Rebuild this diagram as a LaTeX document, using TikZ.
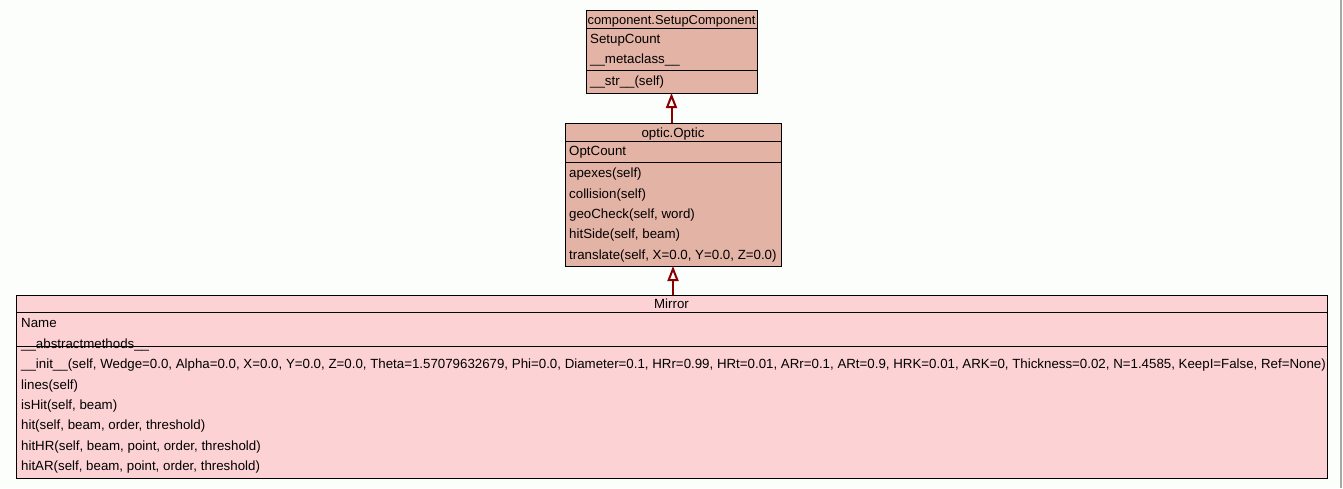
\documentclass[tikz,border=0pt]{standalone}
\usepackage{fontspec}
\setmainfont{Liberation Sans}
\usetikzlibrary{arrows.meta}
\definecolor{bgc}{HTML}{FCFEFC}
\definecolor{salmon}{HTML}{E3B3A5}
\definecolor{pinkc}{HTML}{FCD2D4}
\definecolor{arrowc}{HTML}{880000}
\definecolor{edgegray}{HTML}{A8A8A8}
\tikzset{
  box/.style={draw=black, line width=1pt, rectangle, anchor=north west, inner sep=0pt, outer sep=0pt},
  row/.style={anchor=base west, inner sep=0pt, font=\fontsize{13.3}{15}\selectfont},
  head/.style={anchor=base, inner sep=0pt, font=\fontsize{13.3}{15}\selectfont},
  sep/.style={draw=black, line width=1pt},
  inherit/.style={draw=arrowc, line width=2pt, -{Triangle[open, length=15pt, width=11pt, line width=2pt]}}
}
\begin{document}
\begin{tikzpicture}[x=1pt,y=-1pt]
\useasboundingbox (0,0) rectangle (1343,488);
\fill[bgc] (0,0) rectangle (1343,488);
\draw[edgegray, line width=2pt] (1341,0) -- (1341,488);

% SetupComponent
\node[box, fill=salmon, minimum width=171pt, minimum height=83pt] (setup) at (586,10) {};
\draw[sep] (586,28) -- (757,28);
\draw[sep] (586,70) -- (757,70);
\node[head, font=\fontsize{12.9}{15}\selectfont] (setupT) at (671.5,24) {component.SetupComponent};
\node[row] (s1) at (590,43.3) {SetupCount};
\node[row] (s2) at (590,63.5) {\_\_metaclass\_\_};
\node[row] (s3) at (590,85) {\_\_str\_\_(self)};

% Optic
\node[box, fill=salmon, minimum width=216pt, minimum height=143pt] (optic) at (565,123) {};
\draw[sep] (565,141) -- (781,141);
\draw[sep] (565,162.5) -- (781,162.5);
\node[head] (opticT) at (673,137) {optic.Optic};
\node[row] (o1) at (569,155.5) {OptCount};
\node[row] (o2) at (569,177.5) {apexes(self)};
\node[row] (o3) at (569,198) {collision(self)};
\node[row] (o4) at (569,218.5) {geoCheck(self, word)};
\node[row] (o5) at (569,238.5) {hitSide(self, beam)};
\node[row] (o6) at (569,259) {translate(self, X=0.0, Y=0.0, Z=0.0)};

% Mirror
\node[box, fill=pinkc, minimum width=1311pt, minimum height=183pt] (mirror) at (16,295) {};
\draw[sep] (16,312.5) -- (1327,312.5);
\draw[sep] (16,346.5) -- (1327,346.5);
\node[head] (mirrorT) at (671.5,308) {Mirror};
\node[row] (m1) at (21,327.5) {Name};
\node[row] (m2) at (21,348) {\_\_abstractmethods\_\_};
\node[row] (m3) at (21,368.5) {\_\_init\_\_(self, Wedge=0.0, Alpha=0.0, X=0.0, Y=0.0, Z=0.0, Theta=1.57079632679, Phi=0.0, Diameter=0.1, HRr=0.99, HRt=0.01, ARr=0.1, ARt=0.9, HRK=0.01, ARK=0, Thickness=0.02, N=1.4585, KeepI=False, Ref=None)};
\node[row] (m4) at (21,389) {lines(self)};
\node[row] (m5) at (21,409.5) {isHit(self, beam)};
\node[row] (m6) at (21,429.5) {hit(self, beam, order, threshold)};
\node[row] (m7) at (21,450) {hitHR(self, beam, point, order, threshold)};
\node[row] (m8) at (21,470.5) {hitAR(self, beam, point, order, threshold)};

% inheritance
\draw[inherit] (optic.north -| setup.south) -- (setup.south);
\draw[inherit] (mirror.north -| optic.south) -- (optic.south);
\end{tikzpicture}
\end{document}
